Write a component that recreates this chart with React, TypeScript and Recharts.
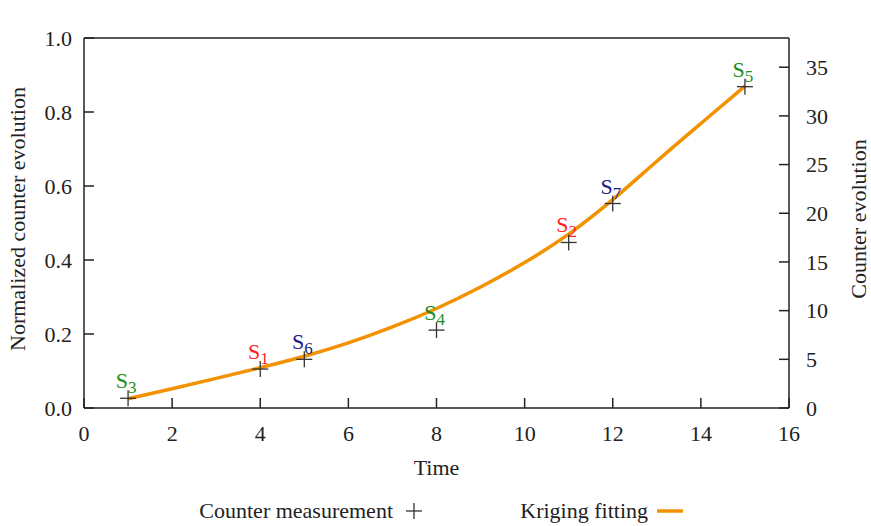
import { ComposedChart, Line, Scatter, XAxis, YAxis, Legend } from "recharts";

// measured counters (right axis, raw counts)
const sensorIds = ["3", "1", "6", "4", "2", "7", "5"];
const sensorTimes = [1, 4, 5, 8, 11, 12, 15];
const sensorCounts = [1, 4, 5, 8, 17, 21, 33];

// kriging fit (left axis, normalized)
const krigingTimes = [1, 2, 3, 4, 5, 6, 7, 8, 9, 10, 11, 12, 13, 14, 15];
const krigingValues = [0.025, 0.052, 0.08, 0.109, 0.14, 0.176, 0.219, 0.269, 0.327, 0.393, 0.47, 0.563, 0.667, 0.769, 0.87];

const timeTicks = [0, 2, 4, 6, 8, 10, 12, 14, 16];
const topTicks = [0, 0.2, 0.4, 0.6, 0.8, 1];
const normTicks = [0, 0.2, 0.4, 0.6, 0.8, 1];
const countTicks = [0, 5, 10, 15, 20, 25, 30, 35];
const countMax = 38;

const measureName = "Counter measurement";
const fitName = "Kriging fitting";

const FONT = "'Liberation Serif', 'DejaVu Serif', serif";
const FS = 22;
const INK = "#222";
const ORANGE = "#f39200";

const labelColor: Record<string, string> = {
  "1": "#ff1f1f",
  "2": "#ff1f1f",
  "3": "#1e8c1e",
  "4": "#1e8c1e",
  "5": "#1e8c1e",
  "6": "#1c1c8c",
  "7": "#1c1c8c",
};

const measured = sensorTimes.map((t, i) => ({ t, count: sensorCounts[i], id: sensorIds[i] }));
const kriging = krigingTimes.map((t, i) => ({ t, norm: krigingValues[i] }));

const tickStyle = { fontFamily: FONT, fontSize: FS, fill: INK };

const CrossMark = (props: any) => {
  const { cx, cy, payload } = props;
  if (cx == null || cy == null) return <g />;
  const col = labelColor[payload.id];
  return (
    <g>
      <line x1={cx - 8} x2={cx + 8} y1={cy} y2={cy} stroke="#333" strokeWidth={1.3} />
      <line x1={cx} x2={cx} y1={cy - 8} y2={cy + 8} stroke="#333" strokeWidth={1.3} />
      <text x={cx - 2} y={cy - 10} textAnchor="middle" fontFamily={FONT} fontSize={FS} fill={col}>
        S<tspan fontSize={17} dy={5}>{payload.id}</tspan>
      </text>
    </g>
  );
};

const SideTitle = (props: any) => {
  const { viewBox, value, side } = props;
  const { x, y, width, height } = viewBox;
  const cx = side === "left" ? x + 17 : x + width - 13;
  const cy = y + height / 2 - 4;
  return (
    <text
      x={cx}
      y={cy}
      transform={`rotate(-90 ${cx} ${cy})`}
      textAnchor="middle"
      dominantBaseline="central"
      fontFamily={FONT}
      fontSize={FS}
      fill={INK}
    >
      {value}
    </text>
  );
};

const LegendBox = () => (
  <svg width={871} height={30} style={{ display: "block" }}>
    <text x={393} y={22} textAnchor="end" fontFamily={FONT} fontSize={FS} fill={INK}>
      {measureName}
    </text>
    <line x1={406} x2={422} y1={15} y2={15} stroke="#333" strokeWidth={1.3} />
    <line x1={414} x2={414} y1={7} y2={23} stroke="#333" strokeWidth={1.3} />
    <text x={648} y={22} textAnchor="end" fontFamily={FONT} fontSize={FS} fill={INK}>
      {fitName}
    </text>
    <line x1={657} x2={683} y1={15} y2={15} stroke={ORANGE} strokeWidth={3.5} />
  </svg>
);

export default function App() {
  return (
    <div style={{ position: "absolute", left: 0, top: 0, width: 871, height: 526, background: "#fff" }}>
      <ComposedChart width={871} height={526} margin={{ top: 0, right: 0, bottom: 43, left: 0 }}>
        <XAxis
          xAxisId="bottom"
          dataKey="t"
          type="number"
          domain={[0, 16]}
          ticks={timeTicks}
          height={75}
          tick={tickStyle}
          tickSize={-10}
          tickMargin={27}
          stroke={INK}
          strokeWidth={1.5}
          allowDuplicatedCategory={false}
          label={{ value: "Time", position: "insideBottom", offset: 8, style: tickStyle }}
        />
        <XAxis
          xAxisId="top"
          orientation="top"
          type="number"
          domain={[0, 1]}
          ticks={topTicks}
          tickFormatter={(v: number) => v.toFixed(2)}
          height={38}
          tick={tickStyle}
          tickSize={-10}
          tickMargin={26}
          stroke={INK}
          strokeWidth={1.5}
        />
        <YAxis
          yAxisId="norm"
          type="number"
          domain={[0, 1]}
          ticks={normTicks}
          tickFormatter={(v: number) => v.toFixed(1)}
          width={84}
          tick={tickStyle}
          tickSize={-10}
          tickMargin={22}
          stroke={INK}
          strokeWidth={1.5}
          label={{ value: "Normalized counter evolution", content: (p: any) => <SideTitle {...p} value="Normalized counter evolution" side="left" /> }}
        />
        <YAxis
          yAxisId="count"
          orientation="right"
          type="number"
          domain={[0, countMax]}
          ticks={countTicks}
          width={82}
          tick={tickStyle}
          tickSize={-10}
          tickMargin={27}
          stroke={INK}
          strokeWidth={1.5}
          label={{ value: "Counter evolution", content: (p: any) => <SideTitle {...p} value="Counter evolution" side="right" /> }}
        />
        <Scatter
          name={measureName}
          data={measured}
          xAxisId="bottom"
          yAxisId="count"
          dataKey="count"
          shape={CrossMark}
          isAnimationActive={false}
        />
        <Line
          name={fitName}
          data={kriging}
          xAxisId="bottom"
          yAxisId="norm"
          dataKey="norm"
          type="natural"
          stroke={ORANGE}
          strokeWidth={3.5}
          dot={false}
          activeDot={false}
          isAnimationActive={false}
        />
        <Legend
          verticalAlign="middle"
          align="center"
          layout="horizontal"
          content={LegendBox}
          wrapperStyle={{ left: 0, top: 496, width: 871 }}
        />
      </ComposedChart>
    </div>
  );
}
